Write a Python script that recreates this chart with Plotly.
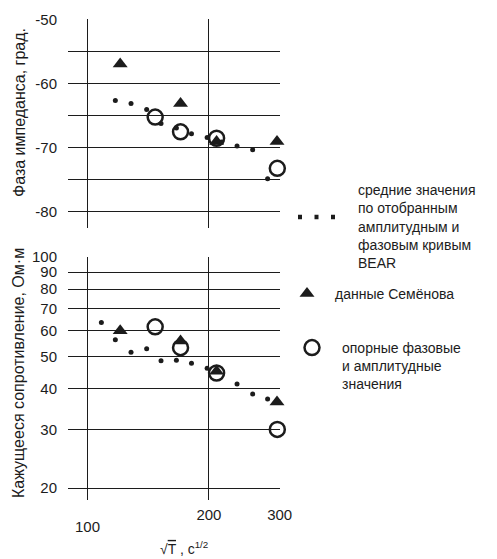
import math
import plotly.graph_objects as go

# ---- data ----
T_sqrt = [108, 117, 128, 140, 152, 166, 181, 198, 215, 235, 257, 280, 305]
phase_mean = [None, -62.6, -63.1, -64.0, -66.2, -66.9, -67.8, -68.4, -69.1, -69.7, -70.3, -74.8, -73.6]
rho_mean = [63.4, 56.2, 51.5, 52.8, 48.6, 48.7, 47.7, 46.1, None, 41.3, 38.5, 37.2, None]

semenov_T = [120.3, 170.0, 209.0, 295.5]
semenov_phase = [-56.9, -63.1, -69.0, -69.0]
semenov_rho = [59.8, 55.7, 45.1, 36.4]

ref_T = [147.0, 170.0, 209.0, 296.0]
ref_phase = [-65.2, -67.5, -68.5, -73.2]
ref_rho = [61.5, 53.2, 44.6, 30.1]

phase_ticks = [-50, -55, -60, -65, -70, -75, -80]
phase_labels = ["-50", "", "-60", "", "-70", "", "-80"]
rho_ticks = [20, 30, 40, 50, 60, 70, 80, 90, 100]
x_ticks = [100, 200, 300]

name_mean = " <br>средние значения<br>по отобранным<br>амплитудным и<br>фазовым кривым<br>BEAR"
name_sem = "данные Семёнова"
name_ref = "опорные фазовые<br>и амплитудные<br>значения"

INK = "#1c1c1c"
FONT = "Liberation Sans, Arial, sans-serif"

W, H = 497, 559
L, R, T, B = 68, 217, 19, 59
PW, PH = W - L - R, H - T - B


def px_x(px):
    return (px - L) / PW


def px_y(py):
    return (H - B - py) / PH


fig = go.Figure()

# top panel: phase
fig.add_trace(go.Scatter(x=ref_T, y=ref_phase, mode="markers", xaxis="x", yaxis="y",
                         marker=dict(symbol="circle-open", size=15, color=INK, line=dict(width=2.5, color=INK)),
                         showlegend=False, cliponaxis=False))
fig.add_trace(go.Scatter(x=semenov_T, y=semenov_phase, mode="markers", xaxis="x", yaxis="y",
                         marker=dict(symbol="triangle-up", size=13, color=INK),
                         showlegend=False, cliponaxis=False))
fig.add_trace(go.Scatter(x=T_sqrt, y=phase_mean, mode="markers", xaxis="x", yaxis="y",
                         marker=dict(symbol="circle", size=5, color=INK),
                         showlegend=False, cliponaxis=False))

# bottom panel: apparent resistivity
fig.add_trace(go.Scatter(x=ref_T, y=ref_rho, mode="markers", xaxis="x2", yaxis="y2",
                         marker=dict(symbol="circle-open", size=15, color=INK, line=dict(width=2.5, color=INK)),
                         name=name_ref, legend="legend3", showlegend=True, cliponaxis=False))
fig.add_trace(go.Scatter(x=semenov_T, y=semenov_rho, mode="markers", xaxis="x2", yaxis="y2",
                         marker=dict(symbol="triangle-up", size=13, color=INK),
                         name=name_sem, legend="legend2", showlegend=True, cliponaxis=False))
fig.add_trace(go.Scatter(x=T_sqrt, y=rho_mean, mode="markers", xaxis="x2", yaxis="y2",
                         marker=dict(symbol="circle", size=5, color=INK),
                         showlegend=False, cliponaxis=False))
# legend-only entry for the mean values (dotted symbol)
fig.add_trace(go.Scatter(x=[None], y=[None], mode="lines", xaxis="x2", yaxis="y2",
                         line=dict(color=INK, width=4.5, dash="4px,12.5px,4px,12.5px,4px,80px"),
                         name=name_mean, legend="legend", showlegend=True))

grid = dict(showgrid=True, gridcolor=INK, gridwidth=1, zeroline=False, showline=False, ticks="")
xr = [math.log10(89.2), math.log10(300.6)]

fig.update_layout(
    width=W, height=H,
    margin=dict(l=L, r=R, t=T, b=B),
    paper_bgcolor="white", plot_bgcolor="white",
    font=dict(family=FONT, size=14, color=INK),
    xaxis=dict(type="log", range=xr, tickvals=x_ticks,
               showticklabels=False, anchor="y", domain=[0, 1], **grid),
    yaxis=dict(range=[-82.5, -49.9], tickvals=phase_ticks, ticktext=phase_labels,
               tickfont=dict(size=15), ticklabelstandoff=10, domain=[0.5655, 1], anchor="x", **grid),
    xaxis2=dict(type="log", range=xr, tickvals=x_ticks,
                ticktext=["", "200", "300"], tickfont=dict(size=15), ticklabelstandoff=4,
                anchor="y2", domain=[0, 1], **grid),
    yaxis2=dict(type="log", range=[math.log10(18.4), math.log10(100.4)], tickvals=rho_ticks,
                ticktext=[str(v) for v in rho_ticks], tickfont=dict(size=15), ticklabelstandoff=10,
                domain=[0, 0.5062], anchor="x2", **grid),
    legend=dict(x=px_x(293), y=px_y(156), xanchor="left", yanchor="top",
                valign="middle", itemwidth=55, font=dict(size=14, color=INK), bgcolor="rgba(0,0,0,0)"),
    legend2=dict(x=px_x(279), y=px_y(278), xanchor="left", yanchor="top",
                 valign="middle", itemwidth=46, font=dict(size=14, color=INK), bgcolor="rgba(0,0,0,0)"),
    legend3=dict(x=px_x(282), y=px_y(332), xanchor="left", yanchor="top",
                 valign="top", itemwidth=50, font=dict(size=14, color=INK), bgcolor="rgba(0,0,0,0)"),
    annotations=[
        dict(text="100", x=math.log10(100), xref="x2", y=px_y(526), yref="paper",
             showarrow=False, font=dict(size=15), xanchor="center", yanchor="middle"),
        dict(text="√<span style='text-decoration:overline'>T</span> , c<sup>1/2</sup>",
             x=px_x(184), xref="paper", y=px_y(548), yref="paper",
             showarrow=False, font=dict(size=14), xanchor="center", yanchor="middle"),
        dict(text="Фаза импеданса, град.", textangle=-90, x=px_x(19), xref="paper",
             y=px_y(113), yref="paper", showarrow=False, font=dict(size=16),
             xanchor="center", yanchor="middle"),
        dict(text="Кажущееся сопротивление, Ом·м", textangle=-90, x=px_x(19), xref="paper",
             y=px_y(373), yref="paper", showarrow=False, font=dict(size=16),
             xanchor="center", yanchor="middle"),
    ],
)

fig.write_html("out.html")
